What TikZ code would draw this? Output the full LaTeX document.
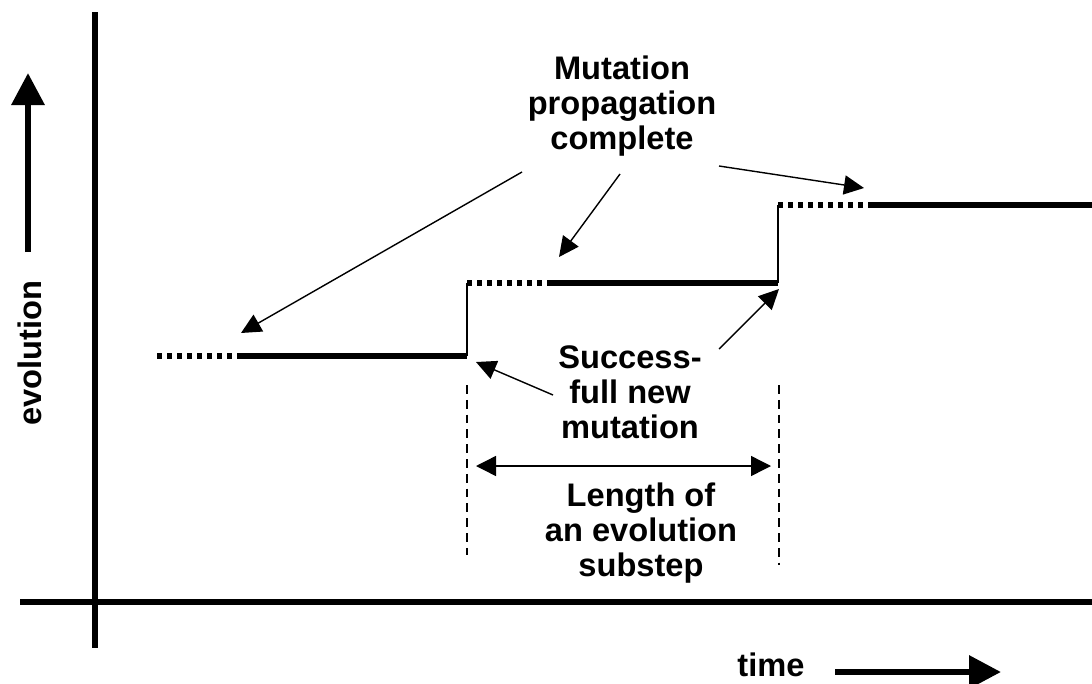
\documentclass[tikz,border=0pt]{standalone}
\usepackage{fontspec}
\setmainfont{Liberation Sans}
\usetikzlibrary{arrows.meta}

\tikzset{
  axisline/.style={line width=3.6pt},
  level/.style={line width=3.6pt},
  leveldots/.style={line width=3.6pt, dash pattern=on 0.125cm off 0.125cm},
  riser/.style={line width=2pt},
  guide/.style={line width=1pt, dash pattern=on 0.22cm off 0.15cm},
  pointer/.style={line width=1pt, -{Triangle[length=0.5cm,width=0.48cm]}},
  span/.style={line width=1pt, {Triangle[length=0.5cm,width=0.5cm]}-{Triangle[length=0.5cm,width=0.5cm]}},
  bigarrow/.style={line width=4.5pt, -{Triangle[length=0.8cm,width=0.8cm]}},
  axislabel/.style={font=\bfseries\fontsize{23.2}{25}\selectfont, inner sep=0pt},
  label/.style={font=\bfseries\fontsize{23.2}{25}\selectfont, align=center, inner sep=0pt}
}

\begin{document}
\begin{tikzpicture}[x=0.025cm,y=-0.025cm]
\useasboundingbox (0,0) rectangle (1092,684);

% axes
\draw[axisline] (95,12) -- (95,648);
\draw[axisline] (20,602) -- (1092,602);

% axis labels
\node[axislabel, rotate=90] (evo) at (30,353) {evolution};
\coordinate (evolow) at (28,252);
\coordinate (evotop) at (28,73);
\draw[bigarrow] (evolow) -- (evotop);
\node[axislabel] (time) at (771,665) {time};
\coordinate (timeleft) at (835,672);
\coordinate (timeright) at (1001,672);
\draw[bigarrow] (timeleft) -- (timeright);

% evolution levels
\coordinate (s1a) at (157,356);
\coordinate (s1b) at (240,356);
\coordinate (s1c) at (467,356);
\coordinate (s2a) at (467,283);
\coordinate (s2b) at (550,283);
\coordinate (s2c) at (778,283);
\coordinate (s3a) at (778,205);
\coordinate (s3b) at (873,205);
\coordinate (s3c) at (1092,205);
\draw[leveldots] (s1a) -- (s1b);
\draw[level] (s1b) -- (s1c);
\draw[riser] (s1c) -- (s2a);
\draw[leveldots] (s2a) -- (s2b);
\draw[level] (s2b) -- (s2c);
\draw[riser] (s2c) -- (s3a);
\draw[leveldots] (s3a) -- (s3b);
\draw[level] (s3b) -- (s3c);

% substep limits
\coordinate (g1top) at (467,385);
\coordinate (g1bot) at (467,555);
\coordinate (g2top) at (779,385);
\coordinate (g2bot) at (779,565);
\draw[guide] (g1top) -- (g1bot);
\draw[guide] (g2top) -- (g2bot);
\coordinate (spanl) at (476,466);
\coordinate (spanr) at (771,466);
\draw[span] (spanl) -- (spanr);

% labels
\node[label] (prop) at (622,106) {Mutation\\propagation\\complete};
\node[label] (succ) at (630,392) {Success-\\full new\\mutation};
\node[label] (len) at (641,533) {Length of\\an evolution\\substep};

% pointers
\coordinate (p1) at (522,172);
\coordinate (t1) at (241,333);
\coordinate (p2) at (620,174);
\coordinate (t2) at (559,257);
\coordinate (p3) at (719,166);
\coordinate (t3) at (864,188);
\draw[pointer] (p1) -- (t1);
\draw[pointer] (p2) -- (t2);
\draw[pointer] (p3) -- (t3);
\coordinate (q1) at (553,395);
\coordinate (u1) at (476,362);
\coordinate (q2) at (719,349);
\coordinate (u2) at (779,289);
\draw[pointer] (q1) -- (u1);
\draw[pointer] (q2) -- (u2);
\end{tikzpicture}
\end{document}
